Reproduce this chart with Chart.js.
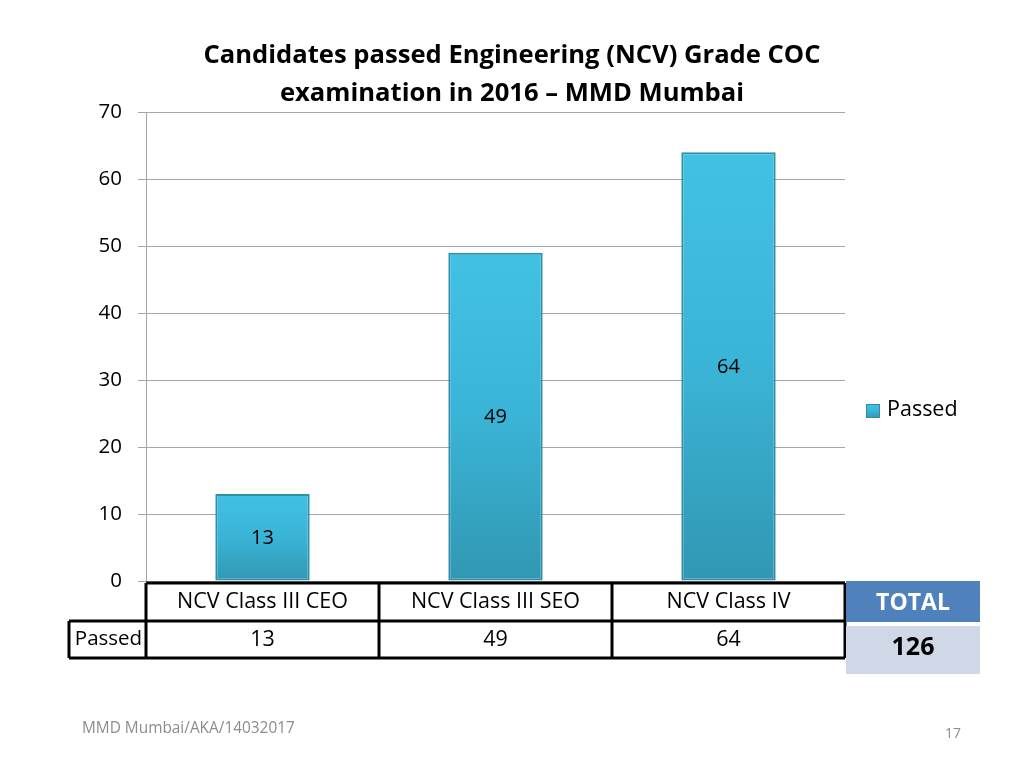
<!DOCTYPE html>
<html>
<head>
<meta charset="utf-8">
<script src="https://cdn.jsdelivr.net/npm/chart.js@4.4.1/dist/chart.umd.min.js"></script>
<style>
  html, body { margin: 0; padding: 0; background: #fff; }
</style>
</head>
<body>
<canvas id="chart" width="1024" height="768"></canvas>
<script>
// chart data
const categories = ['NCV Class III CEO', 'NCV Class III SEO', 'NCV Class IV'];
const passed = [13, 49, 64];
const seriesName = 'Passed';
const yMax = 70;
const yStep = 10;
const titleLines = ['Candidates passed Engineering (NCV) Grade COC', 'examination in 2016 \u2013 MMD Mumbai'];
const totalLabel = 'TOTAL';
const footerText = 'MMD Mumbai/AKA/14032017';
const pageNumber = '17';

const FONT = '"Open Sans", sans-serif';

const barFill = (chart, top, bottom) => {
    const g = chart.ctx.createLinearGradient(0, top, 0, bottom);
    g.addColorStop(0, '#42c1e3');
    g.addColorStop(0.5, '#3ab4d6');
    g.addColorStop(1, '#3197b3');
    return g;
};

const extrasPlugin = {
    id: 'extras',
    afterDatasetsDraw(chart) {
        const { ctx } = chart;
        const meta = chart.getDatasetMeta(0);

        // value labels in the middle of each bar
        ctx.save();
        ctx.font = `20px ${FONT}`;
        ctx.fillStyle = '#000';
        ctx.textAlign = 'center';
        ctx.textBaseline = 'middle';
        meta.data.forEach((bar, i) => {
            ctx.fillText(String(passed[i]), bar.x, (bar.y + bar.base) / 2 + 1);
        });
        ctx.restore();
    },
    afterDraw(chart) {
        const { ctx, chartArea, scales } = chart;
        const x = scales.x;

        ctx.save();
        // title
        ctx.fillStyle = '#000';
        ctx.font = `bold 25.6px ${FONT}`;
        ctx.textAlign = 'center';
        ctx.textBaseline = 'middle';
        titleLines.forEach((line, i) => ctx.fillText(line, 512, 56 + i * 38));

        // data table
        const colW = (chartArea.right - chartArea.left) / categories.length;
        const rowTop = chartArea.bottom + 2;
        const rowMid = rowTop + 38;
        const rowBot = rowMid + 37;
        const headLeft = 69;

        ctx.font = `21.5px ${FONT}`;
        categories.forEach((c, i) => {
            const cx = x.getPixelForValue(i);
            ctx.fillText(c, cx, (rowTop + rowMid) / 2);
            ctx.fillText(String(passed[i]), cx, (rowMid + rowBot) / 2);
        });
        ctx.font = `20.5px ${FONT}`;
        ctx.fillText(seriesName, (headLeft + chartArea.left) / 2 + 1, (rowMid + rowBot) / 2);

        ctx.strokeStyle = '#000';
        ctx.lineWidth = 3;
        ctx.beginPath();
        ctx.moveTo(chartArea.left, rowTop);
        ctx.lineTo(chartArea.right, rowTop);
        ctx.moveTo(headLeft, rowMid);
        ctx.lineTo(chartArea.right, rowMid);
        ctx.moveTo(headLeft, rowBot);
        ctx.lineTo(chartArea.right, rowBot);
        ctx.moveTo(headLeft, rowMid);
        ctx.lineTo(headLeft, rowBot);
        for (let i = 0; i <= categories.length; i++) {
            const lx = chartArea.left + i * colW;
            ctx.moveTo(lx, rowTop);
            ctx.lineTo(lx, rowBot);
        }
        ctx.stroke();

        // total boxes
        const total = passed.reduce((a, b) => a + b, 0);
        ctx.fillStyle = '#4f81bd';
        ctx.fillRect(846, 581, 134, 41);
        ctx.fillStyle = '#d0d8e8';
        ctx.fillRect(846, 626, 134, 48);
        ctx.fillStyle = '#fff';
        ctx.font = `bold 23px ${FONT}`;
        ctx.fillText(totalLabel, 913, 603);
        ctx.fillStyle = '#000';
        ctx.font = `bold 25px ${FONT}`;
        ctx.fillText(String(total), 913, 648);

        // legend
        const lx = 866, ly = 404;
        ctx.fillStyle = barFill(chart, ly, ly + 14);
        ctx.fillRect(lx, ly, 14, 14);
        ctx.strokeStyle = '#2e8ca8';
        ctx.lineWidth = 1;
        ctx.strokeRect(lx + 0.5, ly + 0.5, 13, 13);
        ctx.fillStyle = '#000';
        ctx.font = `21.5px ${FONT}`;
        ctx.textAlign = 'left';
        ctx.fillText(chart.data.datasets[0].label, 887, 410);

        // footer
        ctx.fillStyle = '#8c8c8c';
        ctx.font = `15.4px ${FONT}`;
        ctx.fillText(footerText, 82, 729);
        ctx.font = `14px ${FONT}`;
        ctx.textAlign = 'center';
        ctx.fillText(pageNumber, 953, 734);
        ctx.restore();
    }
};

new Chart(document.getElementById('chart'), {
    type: 'bar',
    data: {
        labels: categories,
        datasets: [{
            label: seriesName,
            data: passed,
            backgroundColor: (c) => {
                const chart = c.chart;
                if (!chart.chartArea || c.raw === undefined) return '#38b6da';
                const y = chart.scales.y;
                return barFill(chart, y.getPixelForValue(c.raw), y.getPixelForValue(0));
            },
            borderColor: '#2f8eaa',
            borderWidth: 2,
            borderSkipped: false,
            categoryPercentage: 1,
            barPercentage: 0.405,
        }],
    },
    options: {
        responsive: false,
        animation: false,
        layout: { padding: { top: 112, right: 179, bottom: 187, left: 0 } },
        plugins: {
            legend: { display: false },
            title: { display: false },
            tooltip: { enabled: false },
        },
        scales: {
            x: { display: false },
            y: {
                min: 0,
                max: yMax,
                afterFit: (s) => { s.width = 146; },
                ticks: { stepSize: yStep, color: '#000', padding: 16, font: { family: FONT, size: 20.5 } },
                grid: { color: '#a6a6a6', tickLength: 8, lineWidth: 1 },
                border: { color: '#a6a6a6' },
            },
        },
    },
    plugins: [extrasPlugin],
});
</script>
</body>
</html>
